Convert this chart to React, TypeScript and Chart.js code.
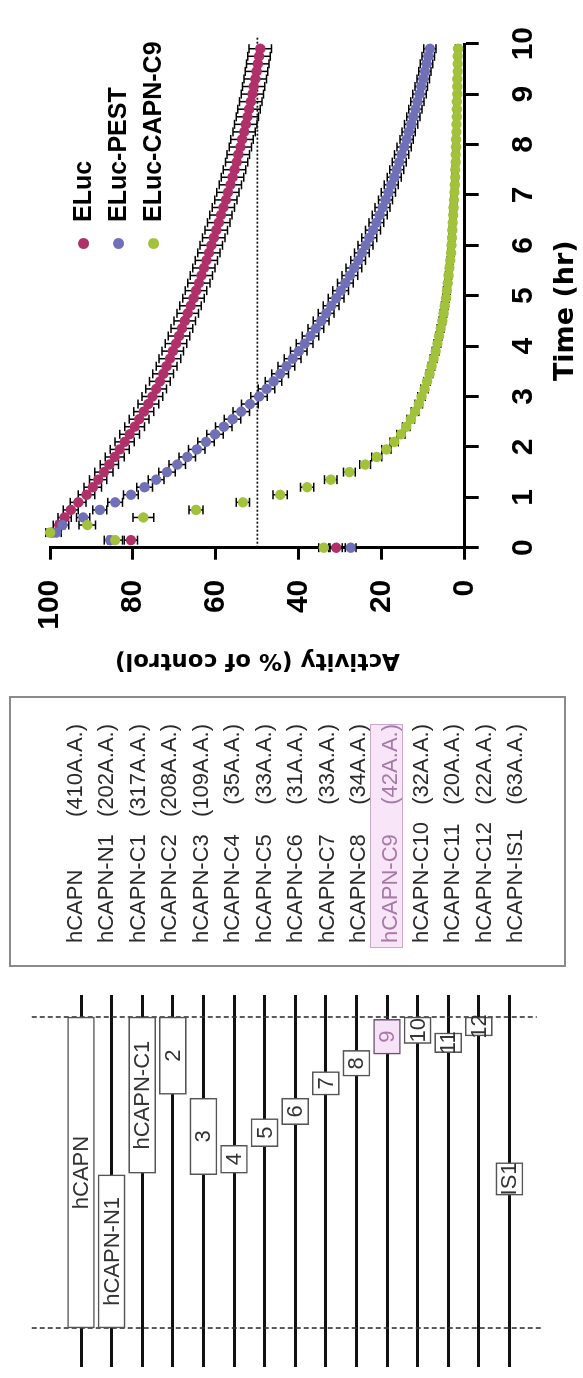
import React, { useEffect, useRef } from "react";
import { Chart, registerables } from "chart.js";

Chart.register(...registerables);

// ---------------- Activity time course data ----------------
const timeHr = [
  0, 0.15, 0.3, 0.45, 0.6, 0.75, 0.9, 1.05, 1.2, 1.35, 1.5, 1.65, 1.8, 1.95, 2.1, 2.25, 2.4, 2.55, 2.7, 2.85,
  3, 3.15, 3.3, 3.45, 3.6, 3.75, 3.9, 4.05, 4.2, 4.35, 4.5, 4.65, 4.8, 4.95, 5.1, 5.25, 5.4, 5.55, 5.7, 5.85,
  6, 6.15, 6.3, 6.45, 6.6, 6.75, 6.9, 7.05, 7.2, 7.35, 7.5, 7.65, 7.8, 7.95, 8.1, 8.25, 8.4, 8.55, 8.7, 8.85,
  9, 9.15, 9.3, 9.45, 9.6, 9.75, 9.9,
];

const elucValues = [
  31, 80.5, 99.5, 97.8, 96.5, 95.0, 93.2, 91.2, 89.7, 88.4, 87.0, 85.7, 84.4, 83.2, 82.0, 80.8, 79.6, 78.5, 77.4, 76.3,
  75.3, 74.4, 73.5, 72.7, 71.9, 71.1, 70.4, 69.6, 68.9, 68.2, 67.5, 66.8, 66.1, 65.4, 64.8, 64.1, 63.5, 62.9, 62.3, 61.7,
  61.1, 60.5, 59.9, 59.3, 58.8, 58.2, 57.6, 57.1, 56.5, 56.0, 55.5, 55.0, 54.6, 54.1, 53.7, 53.2, 52.8, 52.4, 52.0, 51.6,
  51.2, 50.9, 50.5, 50.2, 49.9, 49.6, 49.3,
];
const elucErrors = [
  1.5, 1.6, 1.0, 1.4, 1.6, 1.8, 1.9, 2.0, 2.1, 2.1, 2.2, 2.2, 2.3, 2.3, 2.3, 2.4, 2.4, 2.4, 2.4, 2.5,
  2.5, 2.5, 2.5, 2.5, 2.5, 2.6, 2.6, 2.6, 2.6, 2.6, 2.6, 2.6, 2.6, 2.6, 2.6, 2.7, 2.7, 2.7, 2.7, 2.7,
  2.7, 2.7, 2.7, 2.7, 2.7, 2.7, 2.7, 2.7, 2.7, 2.7, 2.7, 2.7, 2.7, 2.7, 2.7, 2.7, 2.7, 2.7, 2.7, 2.7,
  2.7, 2.7, 2.7, 2.7, 2.7, 2.7, 2.7,
];

const pestValues = [
  27.5, 85.5, 98.5, 97.0, 92.0, 88.0, 84.3, 80.5, 77.2, 74.4, 71.8, 69.3, 66.9, 64.6, 62.4, 60.2, 58.1, 56.0, 53.9, 51.8,
  49.6, 47.8, 46.1, 44.5, 43.0, 41.5, 40.0, 38.6, 37.2, 35.9, 34.6, 33.4, 32.2, 31.0, 29.9, 28.8, 27.7, 26.7, 25.7, 24.8,
  23.9, 23.0, 22.1, 21.3, 20.5, 19.8, 19.1, 18.4, 17.7, 17.0, 16.4, 15.8, 15.2, 14.6, 14.0, 13.5, 12.9, 12.4, 11.9, 11.4,
  10.9, 10.5, 10.0, 9.6, 9.2, 8.8, 8.4,
];
const pestErrors = [
  1.3, 1.4, 1.2, 1.5, 1.6, 1.7, 1.8, 1.8, 1.9, 1.9, 2.0, 2.0, 2.0, 2.0, 2.0, 2.0, 2.0, 2.0, 2.0, 2.0,
  2.0, 2.0, 2.0, 2.0, 2.0, 2.0, 2.0, 2.0, 2.0, 1.9, 1.9, 1.9, 1.9, 1.9, 1.9, 1.9, 1.9, 1.9, 1.8, 1.8,
  1.8, 1.8, 1.8, 1.8, 1.8, 1.8, 1.7, 1.7, 1.7, 1.7, 1.7, 1.7, 1.7, 1.7, 1.6, 1.6, 1.6, 1.6, 1.6, 1.6,
  1.6, 1.5, 1.5, 1.5, 1.5, 1.5, 1.5,
];

const capnC9Values = [
  34, 84.3, 100, 91.0, 77.5, 64.8, 53.5, 44.5, 38.0, 32.3, 27.8, 24.0, 21.2, 18.9, 17.0, 15.4, 14.1, 13.0, 12.0, 11.1,
  10.4, 9.7, 9.1, 8.5, 8.0, 7.5, 7.0, 6.6, 6.2, 5.8, 5.4, 5.1, 4.8, 4.5, 4.3, 4.1, 3.9, 3.7, 3.5, 3.3,
  3.2, 3.1, 3.0, 2.9, 2.8, 2.7, 2.6, 2.5, 2.4, 2.3, 2.3, 2.2, 2.2, 2.1, 2.1, 2.0, 2.0, 1.9, 1.9, 1.9,
  1.8, 1.8, 1.8, 1.7, 1.7, 1.7, 1.6,
];
const capnC9Errors = [
  1.2, 1.8, 1.0, 2.0, 2.5, 1.7, 1.6, 1.7, 1.6, 1.5, 1.4, 1.3, 1.2, 1.1, 1.0, 1.0, 0.9, 0.9, 0.9, 0.9,
  0.9, 0.9, 0.8, 0.8, 0.8, 0.8, 0.8, 0.8, 0.8, 0.8, 0.8, 0.8, 0.8, 0.8, 0.8, 0.7, 0.7, 0.7, 0.7, 0.7,
  0.7, 0.7, 0.7, 0.7, 0.7, 0.7, 0.7, 0.7, 0.7, 0.7, 0.7, 0.7, 0.7, 0.7, 0.6, 0.6, 0.6, 0.6, 0.6, 0.6,
  0.6, 0.6, 0.6, 0.6, 0.6, 0.6, 0.6,
];

const halfLifeLevel = [50, 50];
const halfLifeTimes = [0, 10.15];

const seriesNames = ["ELuc", "ELuc-PEST", "ELuc-CAPN-C9"];
const seriesColors = ["#B0306A", "#7070B8", "#A2C23C"];
const activityTicks = [0, 20, 40, 60, 80, 100];
const timeTicks = [0, 1, 2, 3, 4, 5, 6, 7, 8, 9, 10];

// ---------------- Construct diagram data ----------------
const constructLabels = [
  "hCAPN", "hCAPN-N1", "hCAPN-C1", "2", "3", "4", "5", "6", "7", "8", "9", "10", "11", "12", "IS1",
];
const constructStart = [0, 0, 204, 308, 202, 204, 239, 268, 307, 332, 361, 375, 363, 385, 175];
const constructEnd = [410, 202, 410, 410, 303, 241, 276, 303, 338, 366, 407, 410, 389, 410, 218];
const proteinBounds = [0, 410];

// ---------------- Table data ----------------
const tableNames = [
  "hCAPN", "hCAPN-N1", "hCAPN-C1", "hCAPN-C2", "hCAPN-C3", "hCAPN-C4", "hCAPN-C5", "hCAPN-C6",
  "hCAPN-C7", "hCAPN-C8", "hCAPN-C9", "hCAPN-C10", "hCAPN-C11", "hCAPN-C12", "hCAPN-IS1",
];
const tableSizes = [
  "(410A.A.)", "(202A.A.)", "(317A.A.)", "(208A.A.)", "(109A.A.)", "(35A.A.)", "(33A.A.)", "(31A.A.)",
  "(33A.A.)", "(34A.A.)", "(42A.A.)", "(32A.A.)", "(20A.A.)", "(22A.A.)", "(63A.A.)",
];
const highlightedRow = 10;

const FONT = "'Liberation Sans', Arial, Helvetica, sans-serif";
const WIDE_FONT = "'DejaVu Sans', 'Liberation Sans', Arial, sans-serif";

function ActivityChart() {
  const ref = useRef<HTMLCanvasElement | null>(null);
  useEffect(() => {
    const canvas = ref.current;
    if (!canvas) return;
    const pts = (vals: number[]) => timeHr.map((t, i) => ({ x: t, y: vals[i] }));

    const errorBars = {
      id: "errorBars",
      beforeDatasetsDraw(chart: any) {
        const { ctx, scales } = chart;
        const xs = scales.x;
        const ys = scales.y;
        ctx.save();
        ctx.strokeStyle = "#000";
        ctx.lineWidth = 1.5;
        chart.data.datasets.forEach((ds: any) => {
          if (!ds.errors) return;
          ds.data.forEach((p: any, i: number) => {
            const e = ds.errors[i];
            const px = xs.getPixelForValue(p.x);
            const lo = ys.getPixelForValue(p.y - e);
            const hi = ys.getPixelForValue(p.y + e);
            ctx.beginPath();
            ctx.moveTo(px, lo);
            ctx.lineTo(px, hi);
            ctx.moveTo(px - 4.5, lo);
            ctx.lineTo(px + 4.5, lo);
            ctx.moveTo(px - 4.5, hi);
            ctx.lineTo(px + 4.5, hi);
            ctx.stroke();
          });
        });
        ctx.restore();
      },
    };

    const timeTitle = {
      id: "timeTitle",
      afterDraw(chart: any) {
        const { ctx, scales } = chart;
        const xs = scales.x;
        ctx.save();
        ctx.font = `bold 27px ${WIDE_FONT}`;
        ctx.fillStyle = "#000";
        ctx.textAlign = "center";
        ctx.textBaseline = "middle";
        ctx.fillText("Time (hr)", (xs.left + xs.right) / 2 - 15, xs.bottom - 17);
        ctx.restore();
      },
    };

    const scatterSet = (i: number, vals: number[], errs: number[], order: number) => ({
      type: "scatter" as const,
      label: seriesNames[i],
      data: pts(vals),
      errors: errs,
      backgroundColor: seriesColors[i],
      borderColor: seriesColors[i],
      pointRadius: 5.2,
      pointBorderWidth: 0,
      showLine: false,
      clip: false,
      order,
    });

    const chart = new Chart(canvas, {
      type: "scatter",
      data: {
        datasets: [
          {
            type: "line",
            label: "50%",
            data: halfLifeTimes.map((t, i) => ({ x: t, y: halfLifeLevel[i] })),
            borderColor: "#111",
            borderWidth: 1.6,
            borderDash: [2, 2],
            pointRadius: 0,
            fill: false,
            clip: false,
            order: 5,
          } as any,
          scatterSet(0, elucValues, elucErrors, 3) as any,
          scatterSet(1, pestValues, pestErrors, 2) as any,
          scatterSet(2, capnC9Values, capnC9Errors, 1) as any,
        ],
      },
      options: {
        responsive: false,
        animation: false,
        devicePixelRatio: 1,
        layout: { padding: { left: 0, top: 50, right: 29.3, bottom: 0 } },
        plugins: { legend: { display: false }, tooltip: { enabled: false } },
        scales: {
          x: {
            type: "linear",
            min: timeTicks[0],
            max: timeTicks[timeTicks.length - 1],
            afterFit: (s: any) => {
              s.height = 118.3;
            },
            afterBuildTicks: (s: any) => {
              s.ticks = timeTicks.map((v) => ({ value: v }));
            },
            grid: {
              drawOnChartArea: false,
              drawTicks: true,
              tickLength: 14,
              tickWidth: 3,
              color: "#000",
            },
            border: { display: true, width: 3, color: "#000" },
            ticks: {
              color: "#000",
              padding: 27,
              maxRotation: 0,
              font: { family: FONT, size: 30, weight: "bold" },
            },
            title: { display: false },
          },
          y: {
            type: "linear",
            min: 0,
            max: 100,
            afterFit: (s: any) => {
              s.width = 140.3;
            },
            afterBuildTicks: (s: any) => {
              s.ticks = activityTicks.map((v) => ({ value: v }));
            },
            grid: {
              drawOnChartArea: false,
              drawTicks: true,
              tickLength: 12,
              tickWidth: 3,
              color: "#000",
            },
            border: { display: true, width: 3, color: "#000" },
            ticks: {
              color: "#000",
              padding: 20,
              font: { family: FONT, size: 30, weight: "bold" },
            },
            title: {
              display: true,
              text: "Activity (% of control)",
              color: "#000",
              font: { family: WIDE_FONT, size: 23, weight: "bold" },
              padding: { top: 14, bottom: 0 },
            },
          },
        },
      } as any,
      plugins: [errorBars, timeTitle],
    });
    return () => chart.destroy();
  }, []);
  return (
    <canvas
      ref={ref}
      width={688}
      height={583}
      style={{ position: "absolute", left: 690, top: 0, width: 688, height: 583 }}
    />
  );
}

function DiagramChart() {
  const ref = useRef<HTMLCanvasElement | null>(null);
  useEffect(() => {
    const canvas = ref.current;
    if (!canvas) return;

    const boundaryLines = {
      id: "boundaryLines",
      beforeDatasetsDraw(chart: any) {
        const { ctx, scales, chartArea } = chart;
        ctx.save();
        ctx.strokeStyle = "#333";
        ctx.lineWidth = 1.6;
        ctx.setLineDash([5, 3]);
        proteinBounds.forEach((b, i) => {
          const px = scales.x.getPixelForValue(b);
          ctx.beginPath();
          ctx.moveTo(px, chartArea.top - 34);
          ctx.lineTo(px, chartArea.bottom + (i === 0 ? 18 : 12));
          ctx.stroke();
        });
        ctx.restore();
      },
    };

    const boxLabels = {
      id: "boxLabels",
      afterDatasetsDraw(chart: any) {
        const { ctx } = chart;
        const meta = chart.getDatasetMeta(0);
        ctx.save();
        ctx.font = `22px ${FONT}`;
        ctx.textAlign = "center";
        ctx.textBaseline = "middle";
        meta.data.forEach((bar: any, i: number) => {
          const { x, base, y } = bar.getProps(["x", "base", "y"], true);
          ctx.fillStyle = i === highlightedRow ? "#A878A8" : "#333";
          ctx.fillText(constructLabels[i], (x + base) / 2, y + 1);
        });
        ctx.restore();
      },
    };

    const chart = new Chart(canvas, {
      type: "bar",
      data: {
        labels: constructLabels,
        datasets: [
          {
            data: constructStart.map((s, i) => [s, constructEnd[i]]),
            backgroundColor: constructLabels.map((_, i) => (i === highlightedRow ? "#F7E3F7" : "#FFFFFF")),
            borderColor: constructLabels.map((_, i) => (i === highlightedRow ? "#6E556E" : "#555")),
            borderWidth: 1.6,
            borderSkipped: false,
            barThickness: 27,
          } as any,
        ],
      },
      options: {
        indexAxis: "y",
        responsive: false,
        animation: false,
        devicePixelRatio: 1,
        layout: { padding: { left: 11, right: 17, top: 65.7, bottom: 58.3 } },
        plugins: { legend: { display: false }, tooltip: { enabled: false } },
        scales: {
          x: { type: "linear", min: -51.4, max: 439, display: false },
          y: {
            type: "category",
            display: true,
            afterFit: (s: any) => {
              s.width = 0;
            },
            grid: { offset: false, color: "#111", lineWidth: 3, drawTicks: false },
            border: { display: false },
            ticks: { display: false },
          },
        },
      } as any,
      plugins: [boundaryLines, boxLabels],
    });
    return () => chart.destroy();
  }, []);
  return (
    <canvas
      ref={ref}
      width={400}
      height={583}
      style={{ position: "absolute", left: 0, top: 0, width: 400, height: 583 }}
    />
  );
}

function ConstructTable() {
  const rowY = (i: number) => 75 + 31.45 * i;
  return (
    <>
      <div
        style={{
          position: "absolute",
          left: 411,
          top: 9,
          width: 271,
          height: 557,
          border: "2px solid #8a8a8a",
          boxSizing: "border-box",
        }}
      />
      <div
        style={{
          position: "absolute",
          left: 430,
          top: 370,
          width: 224,
          height: 33,
          background: "#F8E6F8",
          border: "1px solid #C9A9C9",
          boxSizing: "border-box",
        }}
      />
      {tableNames.map((name, i) => (
        <React.Fragment key={name}>
          <div
            style={{
              position: "absolute",
              left: 435,
              top: rowY(i) - 13,
              height: 26,
              lineHeight: "26px",
              font: `22px ${FONT}`,
              color: i === highlightedRow ? "#A67AA6" : "#2b2b2b",
              whiteSpace: "nowrap",
            }}
          >
            {name}
          </div>
          <div
            style={{
              position: "absolute",
              left: 534,
              width: 120,
              top: rowY(i) - 13,
              height: 26,
              lineHeight: "26px",
              textAlign: "right",
              font: `22px ${FONT}`,
              color: i === highlightedRow ? "#A67AA6" : "#2b2b2b",
              whiteSpace: "nowrap",
            }}
          >
            {tableSizes[i]}
          </div>
        </React.Fragment>
      ))}
    </>
  );
}

function Legend() {
  const rows = [83, 118, 153];
  return (
    <>
      {seriesNames.map((name, i) => (
        <React.Fragment key={name}>
          <div
            style={{
              position: "absolute",
              left: 1129,
              top: rows[i] - 5.5,
              width: 11,
              height: 11,
              borderRadius: 5.5,
              background: seriesColors[i],
            }}
          />
          <div
            style={{
              position: "absolute",
              left: 1156,
              top: rows[i] - 15,
              height: 30,
              lineHeight: "30px",
              font: `bold 25px ${FONT}`,
              color: "#000",
              whiteSpace: "nowrap",
            }}
          >
            {name}
          </div>
        </React.Fragment>
      ))}
    </>
  );
}

export default function App() {
  return (
    <div
      style={{
        position: "fixed",
        left: 0,
        top: 0,
        width: 1378,
        height: 583,
        background: "#fff",
        transformOrigin: "0 0",
        transform: "translate(0px, 1378px) rotate(-90deg)",
        overflow: "hidden",
      }}
    >
      <DiagramChart />
      <ConstructTable />
      <ActivityChart />
      <Legend />
    </div>
  );
}
